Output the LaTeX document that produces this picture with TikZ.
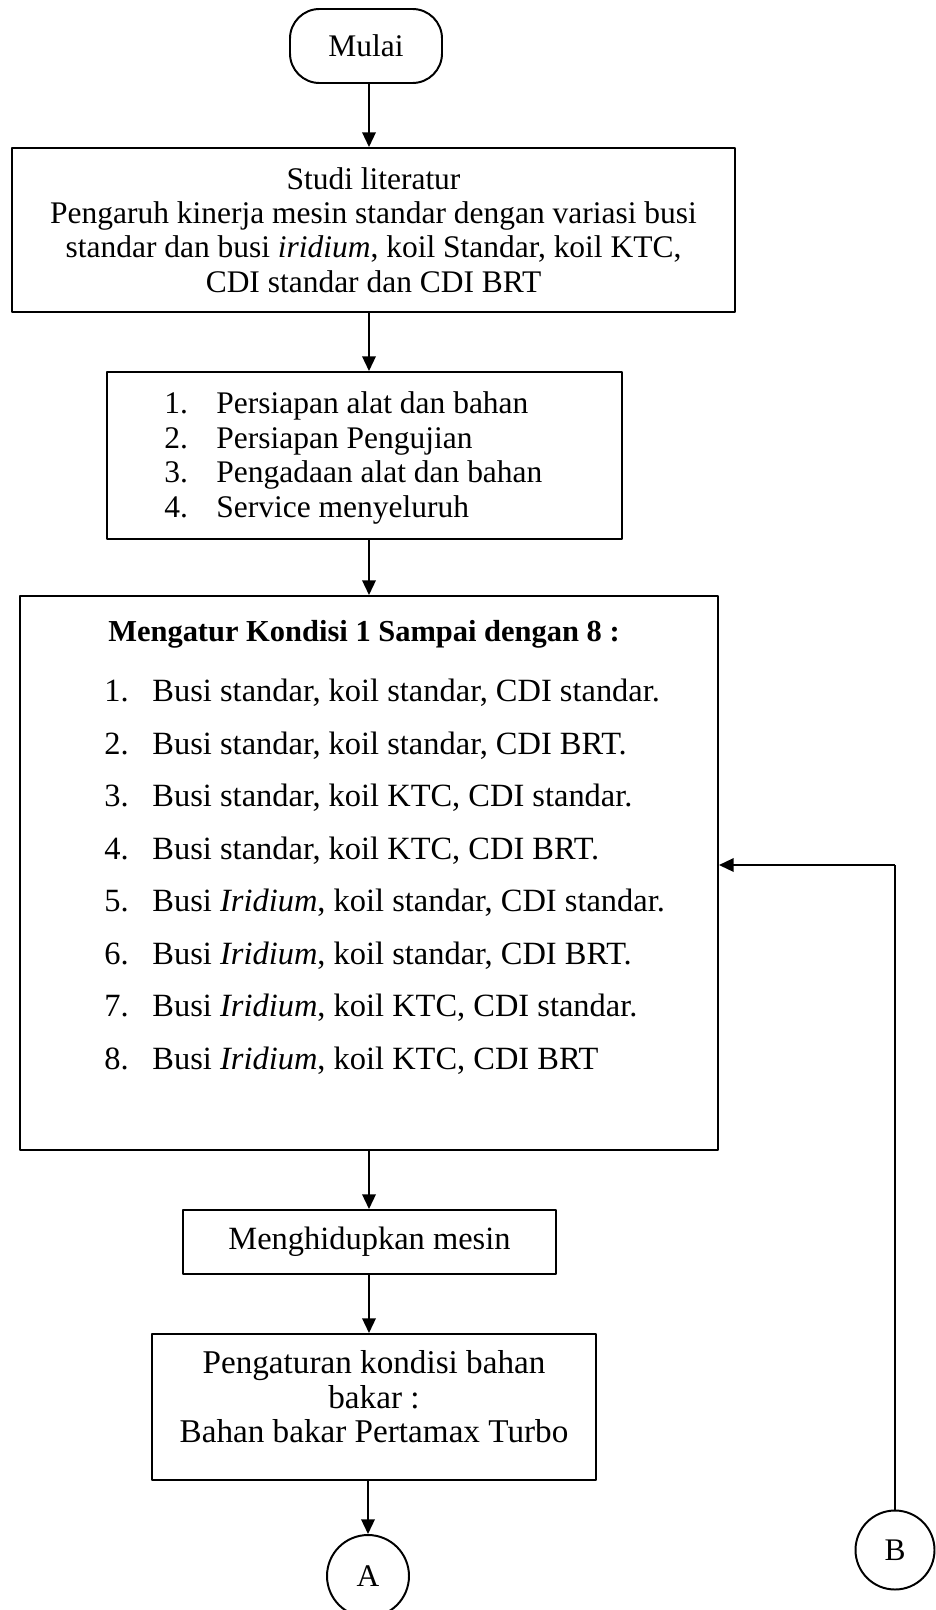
\documentclass[tikz,border=0pt]{standalone}
\usepackage{fontspec}
\setmainfont{Liberation Serif}
\usetikzlibrary{arrows.meta}
\newlength\unitpx
\setlength\unitpx{0.4068pt}
\tikzset{
  box/.style={draw, line width=0.8pt, inner sep=0pt},
  flow/.style={->, line width=0.8pt},
  txt/.style={inner sep=0pt, align=left},
}
\newcommand{\numitem}[3][52]{\makebox[#1\unitpx][l]{#2}#3}
\begin{document}
\begin{tikzpicture}[x=\unitpx, y=-\unitpx, font=\fontsize{12.8}{14}\selectfont, line join=round, >={Triangle[length=6pt,width=5.5pt]}]
		\useasboundingbox (0,0) rectangle (936,1610);
		\coordinate (spine) at (369,0);
		% start
		\node[box, rounded corners=12pt, minimum width=152*\unitpx, minimum height=74*\unitpx] (mulai) at (366,46) {Mulai};
		% literatur
		\node[box, align=center, minimum width=723*\unitpx, minimum height=164*\unitpx] (studi) at (373.5,230)
			{Studi literatur\\Pengaruh kinerja mesin standar dengan variasi busi\\standar dan busi \textit{iridium}, koil Standar, koil KTC,\\CDI standar dan CDI BRT};
		% persiapan
		\node[box, minimum width=515*\unitpx, minimum height=167*\unitpx] (prep) at (364.5,455.5) {};
		\node[txt, anchor=west] (preplist) at (164,458)
			{\numitem{1.}{Persiapan alat dan bahan}\\\numitem{2.}{Persiapan Pengujian}\\\numitem{3.}{Pengadaan alat dan bahan}\\\numitem{4.}{Service menyeluruh}};
		% kondisi 1 - 8
		\node[box, minimum width=698*\unitpx, minimum height=554*\unitpx] (cond) at (369,873) {};
		\node[inner sep=0pt, font=\fontsize{12.4}{14}\selectfont\bfseries] (condtitle) at (364,634) {Mengatur Kondisi 1 Sampai dengan 8 :};
		\foreach \i/\t in {1/{Busi standar, koil standar, CDI standar.},
			2/{Busi standar, koil standar, CDI BRT.},
			3/{Busi standar, koil KTC, CDI standar.},
			4/{Busi standar, koil KTC, CDI BRT.},
			5/{Busi \textit{Iridium}, koil standar, CDI standar.},
			6/{Busi \textit{Iridium}, koil standar, CDI BRT.},
			7/{Busi \textit{Iridium}, koil KTC, CDI standar.},
			8/{Busi \textit{Iridium}, koil KTC, CDI BRT}}
			\node[txt, anchor=west, font=\fontsize{13.2}{14}\selectfont] (cond\i) at (104,{693+52.5*(\i-1)}) {\numitem[48]{\i.}{\t}};
		% mesin
		\node[box, minimum width=373*\unitpx, minimum height=64*\unitpx, font=\fontsize{13.2}{14}\selectfont] (mesin) at (369.5,1242) {Menghidupkan mesin};
		% bahan bakar
		\node[box, minimum width=444*\unitpx, minimum height=146*\unitpx] (fuel) at (374,1407) {};
		\node[inner sep=0pt, align=center, font=\fontsize{13.5}{14}\selectfont] (fueltxt) at (374,1397) {Pengaturan kondisi bahan\\bakar :\\Bahan bakar Pertamax Turbo};
		% connectors
		\node[circle, draw, line width=0.8pt, minimum size=82*\unitpx, inner sep=0pt] (A) at (368,1576) {A};
		\node[circle, draw, line width=0.8pt, minimum size=79*\unitpx, inner sep=0pt] (B) at (895,1550) {B};
		\draw[flow] (mulai.south -| spine) -- (studi.north -| spine);
		\draw[flow] (studi.south -| spine) -- (prep.north -| spine);
		\draw[flow] (prep.south -| spine) -- (cond.north -| spine);
		\draw[flow] (cond.south -| spine) -- (mesin.north -| spine);
		\draw[flow] (mesin.south -| spine) -- (fuel.north -| spine);
		\draw[flow] (fuel.south -| A) -- (A.north);
		\coordinate (turn) at (895,865);
		\draw[line width=0.55pt] (B.north) -- (turn);
		\draw[flow] (turn) -- (cond.east |- turn);
\end{tikzpicture}
\end{document}
